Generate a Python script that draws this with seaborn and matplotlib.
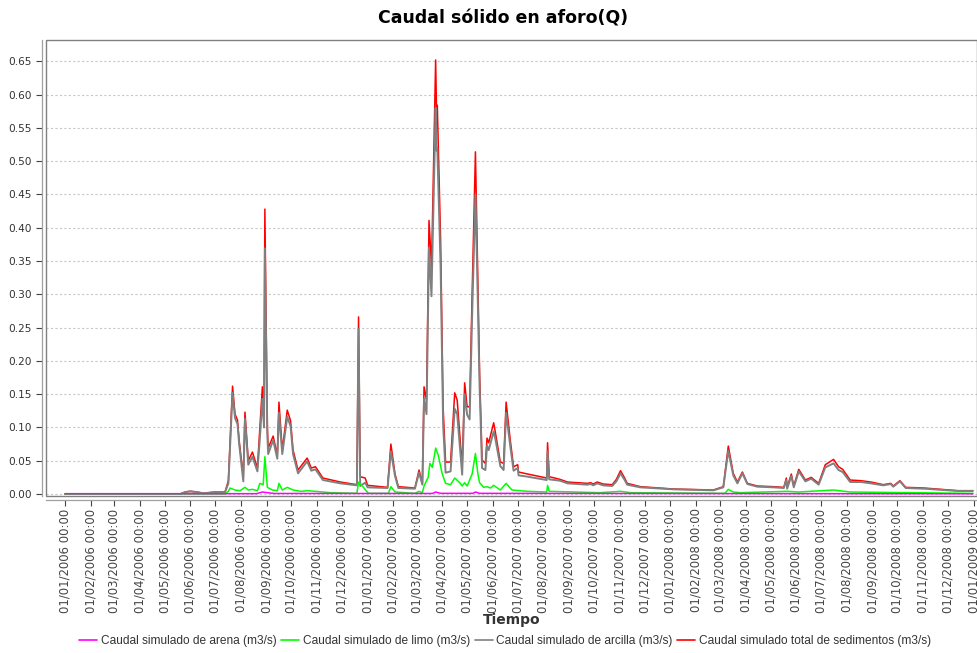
import matplotlib
matplotlib.use("Agg")
import matplotlib.pyplot as plt
import matplotlib.dates as mdates
from matplotlib.patches import Rectangle
import pandas as pd
import seaborn as sns

# ---- series: total sediment discharge and clay (same dates) ----
total_dates = [
    "2006-01-01", "2006-05-20", "2006-05-26", "2006-06-01", "2006-06-09", "2006-06-17",
    "2006-07-01", "2006-07-13", "2006-07-17", "2006-07-22", "2006-07-25", "2006-07-28",
    "2006-07-30", "2006-08-04", "2006-08-06", "2006-08-10", "2006-08-15", "2006-08-21",
    "2006-08-24", "2006-08-27", "2006-08-29", "2006-08-30", "2006-09-02", "2006-09-03",
    "2006-09-09", "2006-09-14", "2006-09-16", "2006-09-20", "2006-09-26", "2006-09-30",
    "2006-10-03", "2006-10-09", "2006-10-20", "2006-10-25", "2006-10-30", "2006-11-08",
    "2006-11-29", "2006-12-19", "2006-12-21", "2006-12-23", "2006-12-29", "2007-01-01",
    "2007-01-25", "2007-01-29", "2007-02-03", "2007-02-07", "2007-02-27", "2007-03-04",
    "2007-03-08", "2007-03-10", "2007-03-13", "2007-03-16", "2007-03-19", "2007-03-20",
    "2007-03-24", "2007-03-25", "2007-03-26", "2007-03-30", "2007-04-02", "2007-04-05",
    "2007-04-11", "2007-04-16", "2007-04-19", "2007-04-25", "2007-04-28", "2007-05-01",
    "2007-05-04", "2007-05-07", "2007-05-11", "2007-05-13", "2007-05-16", "2007-05-19",
    "2007-05-23", "2007-05-25", "2007-05-27", "2007-06-02", "2007-06-04", "2007-06-10",
    "2007-06-14", "2007-06-17", "2007-06-22", "2007-06-26", "2007-07-01", "2007-07-02",
    "2007-07-13", "2007-08-05", "2007-08-06", "2007-08-08", "2007-08-21", "2007-08-30",
    "2007-09-23", "2007-09-27", "2007-09-30", "2007-10-05", "2007-10-12", "2007-10-23",
    "2007-10-28", "2007-11-02", "2007-11-07", "2007-11-10", "2007-11-26", "2008-01-05",
    "2008-02-22", "2008-03-05", "2008-03-11", "2008-03-17", "2008-03-22", "2008-03-28",
    "2008-04-03", "2008-04-15", "2008-05-05", "2008-05-17", "2008-05-20", "2008-05-21",
    "2008-05-26", "2008-05-29", "2008-06-04", "2008-06-12", "2008-06-19", "2008-06-28",
    "2008-07-06", "2008-07-16", "2008-07-22", "2008-07-27", "2008-08-05", "2008-08-18",
    "2008-08-30", "2008-09-14", "2008-09-23", "2008-09-26", "2008-10-04", "2008-10-11",
    "2008-11-02", "2008-12-13", "2008-12-28", "2008-12-31",
]
total_q = [
    0.000, 0.000, 0.003, 0.004, 0.003, 0.001,
    0.003, 0.003, 0.020, 0.162, 0.120, 0.111,
    0.080, 0.026, 0.123, 0.050, 0.063, 0.039,
    0.100, 0.161, 0.130, 0.428, 0.100, 0.069,
    0.087, 0.058, 0.138, 0.066, 0.126, 0.110,
    0.066, 0.036, 0.054, 0.039, 0.041, 0.024,
    0.018, 0.014, 0.266, 0.026, 0.024, 0.013,
    0.010, 0.075, 0.030, 0.011, 0.009, 0.036,
    0.016, 0.161, 0.141, 0.411, 0.341, 0.400,
    0.652, 0.581, 0.584, 0.381, 0.131, 0.048,
    0.048, 0.152, 0.141, 0.041, 0.167, 0.131,
    0.131, 0.300, 0.514, 0.381, 0.182, 0.051,
    0.046, 0.084, 0.077, 0.107, 0.093, 0.048,
    0.046, 0.138, 0.081, 0.041, 0.044, 0.033,
    0.030, 0.024, 0.077, 0.026, 0.022, 0.018,
    0.016, 0.017, 0.015, 0.018, 0.015, 0.014,
    0.022, 0.035, 0.024, 0.016, 0.011, 0.0075,
    0.006, 0.011, 0.072, 0.031, 0.018, 0.033,
    0.016, 0.012, 0.011, 0.010, 0.024, 0.010,
    0.030, 0.012, 0.037, 0.021, 0.025, 0.016,
    0.044, 0.052, 0.041, 0.037, 0.021, 0.020,
    0.018, 0.014, 0.016, 0.012, 0.020, 0.010,
    0.009, 0.005, 0.005, 0.005,
]
clay_q = [
    0.000, 0.000, 0.003, 0.004, 0.003, 0.001,
    0.003, 0.003, 0.016, 0.152, 0.114, 0.105,
    0.075, 0.019, 0.113, 0.044, 0.056, 0.034,
    0.084, 0.143, 0.100, 0.369, 0.088, 0.060,
    0.081, 0.053, 0.122, 0.060, 0.116, 0.102,
    0.060, 0.031, 0.049, 0.035, 0.037, 0.021,
    0.016, 0.013, 0.248, 0.012, 0.017, 0.010,
    0.009, 0.064, 0.027, 0.009, 0.008, 0.032,
    0.014, 0.143, 0.120, 0.370, 0.297, 0.357,
    0.580, 0.516, 0.520, 0.340, 0.105, 0.032,
    0.034, 0.128, 0.120, 0.029, 0.150, 0.119,
    0.112, 0.268, 0.450, 0.340, 0.162, 0.039,
    0.036, 0.073, 0.066, 0.094, 0.083, 0.042,
    0.036, 0.122, 0.072, 0.035, 0.039, 0.028,
    0.026, 0.021, 0.064, 0.022, 0.020, 0.016,
    0.014, 0.015, 0.013, 0.016, 0.013, 0.012,
    0.019, 0.031, 0.021, 0.014, 0.010, 0.007,
    0.0055, 0.010, 0.065, 0.028, 0.016, 0.031,
    0.015, 0.011, 0.010, 0.009, 0.021, 0.008,
    0.027, 0.010, 0.034, 0.019, 0.023, 0.014,
    0.040, 0.046, 0.036, 0.033, 0.018, 0.018,
    0.016, 0.013, 0.015, 0.011, 0.019, 0.009,
    0.008, 0.0045, 0.0045, 0.0045,
]

# ---- silt ----
silt_dates = [
    "2006-01-01", "2006-07-13", "2006-07-17", "2006-07-19", "2006-07-25", "2006-07-31",
    "2006-08-06", "2006-08-10", "2006-08-15", "2006-08-21", "2006-08-24", "2006-08-28",
    "2006-08-30", "2006-09-02", "2006-09-08", "2006-09-14", "2006-09-16", "2006-09-20",
    "2006-09-26", "2006-10-03", "2006-10-13", "2006-10-20", "2006-10-30", "2006-11-17",
    "2006-12-19", "2006-12-21", "2006-12-27", "2006-12-30", "2007-01-02", "2007-01-26",
    "2007-01-29", "2007-02-03", "2007-02-27", "2007-03-04", "2007-03-08", "2007-03-10",
    "2007-03-13", "2007-03-15", "2007-03-17", "2007-03-20", "2007-03-24", "2007-03-26",
    "2007-03-27", "2007-04-01", "2007-04-05", "2007-04-11", "2007-04-16", "2007-04-22",
    "2007-04-25", "2007-04-28", "2007-05-01", "2007-05-07", "2007-05-11", "2007-05-14",
    "2007-05-16", "2007-05-21", "2007-05-25", "2007-05-29", "2007-06-02", "2007-06-10",
    "2007-06-17", "2007-06-24", "2007-07-13", "2007-08-05", "2007-08-06", "2007-08-08",
    "2007-10-08", "2007-11-02", "2007-11-14", "2008-03-07", "2008-03-11", "2008-03-17",
    "2008-03-26", "2008-05-21", "2008-06-04", "2008-07-16", "2008-08-05", "2008-12-28",
    "2008-12-31",
]
silt_q = [
    0.000, 0.000, 0.004, 0.009, 0.006, 0.005,
    0.010, 0.006, 0.007, 0.005, 0.016, 0.014,
    0.056, 0.010, 0.006, 0.005, 0.016, 0.006,
    0.010, 0.006, 0.004, 0.005, 0.004, 0.002,
    0.001, 0.018, 0.010, 0.005, 0.001, 0.001,
    0.011, 0.003, 0.001, 0.004, 0.002, 0.012,
    0.020, 0.025, 0.046, 0.040, 0.069, 0.062,
    0.059, 0.030, 0.016, 0.014, 0.024, 0.017,
    0.012, 0.017, 0.012, 0.030, 0.061, 0.030,
    0.017, 0.010, 0.011, 0.009, 0.013, 0.006,
    0.016, 0.006, 0.004, 0.003, 0.013, 0.004,
    0.002, 0.004, 0.002, 0.001, 0.007, 0.003,
    0.002, 0.004, 0.003, 0.006, 0.003, 0.001,
    0.001,
]

# ---- sand ----
sand_dates = [
    "2006-01-01", "2006-08-20", "2006-08-27", "2006-09-02", "2006-09-10",
    "2007-03-20", "2007-03-24", "2007-03-30", "2007-05-08", "2007-05-11",
    "2007-05-16", "2008-12-31",
]
sand_q = [
    0.0005, 0.0005, 0.003, 0.002, 0.0008,
    0.0008, 0.003, 0.001, 0.001, 0.003,
    0.001, 0.0003,
]

series_labels = [
    "Caudal simulado de arena (m3/s)",
    "Caudal simulado de limo (m3/s)",
    "Caudal simulado de arcilla (m3/s)",
    "Caudal simulado total de sedimentos (m3/s)",
]
series_colors = ["#FF00FF", "#00FF00", "#808080", "#FF0000"]

title_text = "Caudal sólido en aforo(Q)"
x_label = "Tiempo"
y_ticks = [0.00, 0.05, 0.10, 0.15, 0.20, 0.25, 0.30, 0.35, 0.40, 0.45, 0.50, 0.55, 0.60, 0.65]

sns.set_theme(style="white")
plt.rcParams["font.family"] = ["DejaVu Sans"]

fig = plt.figure(figsize=(9.77, 6.53), dpi=100)
ax = fig.add_axes([46 / 977, 1 - 496 / 653, 1 - 46 / 977, (496 - 40) / 653])

frames = [
    (pd.to_datetime(total_dates), total_q, 3),
    (pd.to_datetime(total_dates), clay_q, 2),
    (pd.to_datetime(silt_dates), silt_q, 1),
    (pd.to_datetime(sand_dates), sand_q, 0),
]
for dates, vals, idx in frames:
    sns.lineplot(x=dates, y=vals, ax=ax, color=series_colors[idx],
                 linewidth=1.1 if idx != 2 else 1.4, legend=False)

ax.set_xlim(pd.Timestamp("2005-12-09"), pd.Timestamp("2009-01-05"))
ax.set_ylim(-0.003, 0.682)
ax.set_yticks(y_ticks)
ax.set_yticklabels([f"{v:.2f}" for v in y_ticks])

ax.xaxis.set_major_locator(mdates.MonthLocator())
ax.xaxis.set_major_formatter(mdates.DateFormatter("%d/%m/%Y %H:%M"))

ax.tick_params(axis="x", labelsize=8.4, colors="#444444", length=4, width=0.8,
               direction="out", bottom=True, pad=2, labelcolor="#444444",
               labelrotation=90)
ax.tick_params(axis="y", labelsize=7.6, colors="#444444", length=4, width=0.8,
               direction="out", left=True, pad=3, labelcolor="#333333")

ax.grid(axis="y", color="#c8c8c8", linestyle=(0, (2, 2)), linewidth=0.8)
ax.grid(axis="x", visible=False)

# axis lines sit slightly outside the plot outline
for side in ["left", "bottom"]:
    ax.spines[side].set_position(("outward", 3))
    ax.spines[side].set_color("#a0a0a0")
    ax.spines[side].set_linewidth(0.9)
for side in ["top", "right"]:
    ax.spines[side].set_visible(False)
ax.add_patch(Rectangle((0, 0), 1, 1, transform=ax.transAxes, fill=False,
                       edgecolor="#808080", linewidth=1.0, clip_on=False, zorder=5))

ax.set_xlabel(x_label, fontsize=10, fontweight="bold", color="#333333", labelpad=0)
ax.set_ylabel("")

fig.text(503 / 977, 1 - 18 / 653, title_text, ha="center", va="center",
         fontsize=12.5, fontweight="bold", color="black")

handles = [plt.Line2D([], [], color=c, linewidth=1.2) for c in series_colors]
fig.legend(handles, series_labels, loc="center", bbox_to_anchor=(505 / 977, 1 - 641 / 653),
           ncol=4, frameon=False, handlelength=1.5, handletextpad=0.3,
           columnspacing=0.4, labelcolor="#333333",
           prop={"family": ["Liberation Sans", "DejaVu Sans"], "size": 8.6})

fig.savefig("out.png", dpi=100)
